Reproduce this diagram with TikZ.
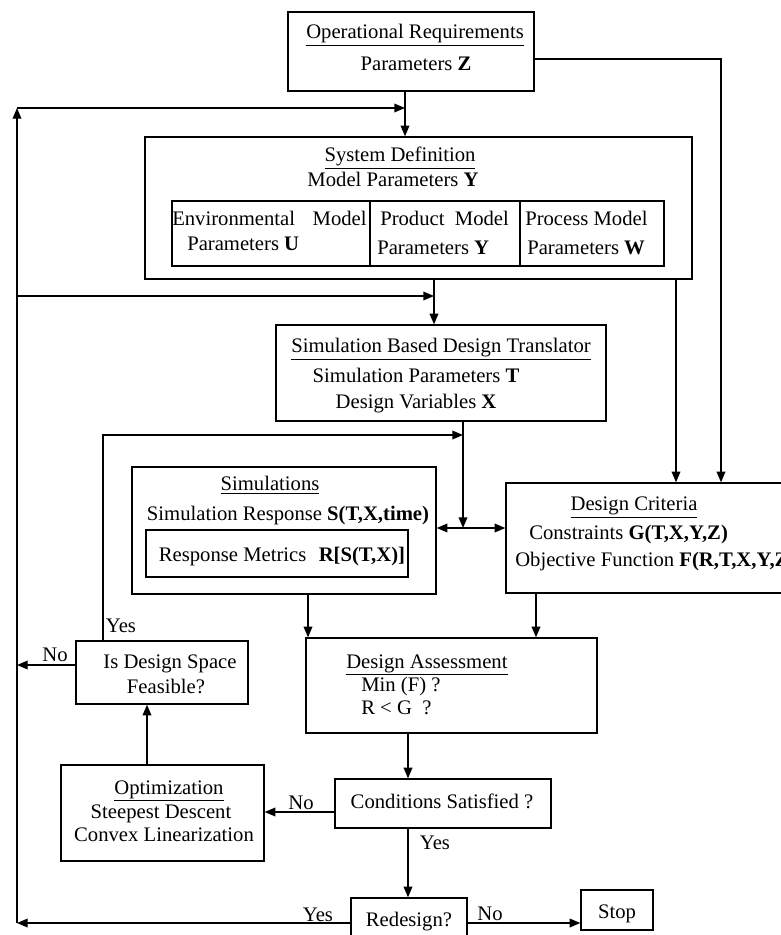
\documentclass[tikz,border=0pt]{standalone}
\usepackage{fontspec}
\setmainfont{Liberation Serif}
\usetikzlibrary{arrows.meta,fit}
\newcommand{\fsz}{\fontsize{15.5}{18}\selectfont}
\begin{document}
\begin{tikzpicture}[x=0.75pt,y=-0.75pt,
 box/.style={draw,line width=1pt,inner sep=0pt},
 txt/.style={inner sep=0pt,font=\fsz,anchor=mid,yshift=-2.2pt},
 ltxt/.style={txt,anchor=mid west},
 ln/.style={line width=1pt},
 arr/.style={ln,-{Triangle[length=8pt,width=6.5pt]}},
]
\useasboundingbox (0,0) rectangle (781,935);

% Operational requirements
\node[box,fit={(288,12)(534,91)}] (or) {};
\node[txt] (ort) at (415,33) {\underline{Operational Requirements}};
\node[txt] (orp) at (416,65) {Parameters \textbf{Z}};

% System definition
\node[box,fit={(145,137)(692,279)}] (sd) {};
\node[txt] (sdt) at (400,156) {\underline{System Definition}};
\node[txt] (sdp) at (393,181) {Model Parameters \textbf{Y}};
\node[box,fit={(172,201)(664,266)}] (tab) {};
\draw[ln] (370,0 |- tab.north) -- (370,0 |- tab.south);
\draw[ln] (520,0 |- tab.north) -- (520,0 |- tab.south);
\node[ltxt] (e1) at (172,220) {Environmental\hspace{0.85em}Model};
\node[ltxt] (e2) at (187,245) {Parameters \textbf{U}};
\node[ltxt] (p1) at (380,220) {Product\hspace{0.5em}Model};
\node[ltxt] (p2) at (377,249) {Parameters \textbf{Y}};
\node[ltxt] (q1) at (525,220) {Process Model};
\node[ltxt] (q2) at (527,249) {Parameters \textbf{W}};

% Simulation based design translator
\node[box,fit={(276,325)(606,421)}] (sb) {};
\node[txt] (sbt) at (441,347) {\underline{Simulation Based Design Translator}};
\node[txt] (sbp) at (416,377) {Simulation Parameters \textbf{T}};
\node[txt] (sbx) at (416,403) {Design Variables \textbf{X}};

% Simulations
\node[box,fit={(132,467)(436,594)}] (sim) {};
\node[txt] (simt) at (270,485) {\underline{Simulations}};
\node[txt] (simr) at (288,514) {Simulation Response \textbf{S(T,X,time)}};
\node[box,fit={(146,530)(408,577)}] (rm) {};
\node[txt] (rmt) at (282,555) {Response Metrics\hspace{0.6em}\textbf{R[S(T,X)]}};

% Design criteria
\node[box,fit={(506,483)(800,593)}] (dc) {};
\node[txt] (dct) at (634,505) {\underline{Design Criteria}};
\node[ltxt] (dcg) at (529,533) {Constraints \textbf{G(T,X,Y,Z)}};
\node[ltxt] (dcf) at (515,560) {Objective Function \textbf{F(R,T,X,Y,Z)}};

% Design assessment
\node[box,fit={(306,638)(597,733)}] (da) {};
\node[ltxt] (dat) at (346,662) {\underline{Design Assessment}};
\node[ltxt] (dam) at (361,685) {Min (F) ?};
\node[ltxt] (dar) at (361,708) {R < G\enspace?};

% Is design space feasible
\node[box,fit={(76,641)(248,704)}] (ids) {};
\node[txt] (ids1) at (170,662) {Is Design Space};
\node[txt] (ids2) at (166,687) {Feasible?};

% Optimization
\node[box,fit={(61,765)(264,861)}] (opt) {};
\node[txt] (o1) at (169,788) {\underline{Optimization}};
\node[txt] (o2) at (161,812) {Steepest Descent};
\node[txt] (o3) at (164,835) {Convex Linearization};

% Conditions satisfied
\node[box,fit={(335,779)(551,828)}] (cs) {};
\node[txt] (cst) at (442,802) {Conditions Satisfied ?};

% Redesign and stop
\node[box,fit={(351,898)(467,950)}] (rd) {};
\node[txt] (rdt) at (409,920) {Redesign?};
\node[box,fit={(581,890)(653,930)}] (st) {};
\node[txt] (stt) at (617,912) {Stop};

% Labels
\node[txt] (ly1) at (121,626) {Yes};
\node[txt] (ln1) at (55,655) {No};
\node[txt] (ln2) at (301,803) {No};
\node[txt] (ly2) at (435,843) {Yes};
\node[txt] (ly3) at (318,915) {Yes};
\node[txt] (ln3) at (490,914) {No};

% Junction coordinates
\coordinate (lt) at (17,108);
\coordinate (lb) at (17,923);
\coordinate (j1) at (405,108);
\coordinate (j2) at (434,296);
\coordinate (j3) at (463,528);
\coordinate (j4) at (463,435);
\coordinate (rc) at (721,59);

% Connectors
\draw[arr] (405,0 |- or.south) -- (405,0 |- sd.north);
\draw[arr] (lb) -- (lt);
\draw[arr] (lt) -- (j1);
\draw[arr] (or.east |- rc) -- (rc) -- (rc |- dc.north);
\draw[arr] (434,0 |- sd.south) -- (434,0 |- sb.north);
\draw[arr] (lt |- j2) -- (j2);
\draw[arr] (676,0 |- sd.south) -- (676,0 |- dc.north);
\draw[arr] (j3 |- sb.south) -- (j3);
\draw[arr] (j3) -- (sim.east |- j3);
\draw[arr] (j3) -- (dc.west |- j3);
\draw[arr] (103,0 |- ids.north) -- (103,0 |- j4) -- (j4);
\draw[arr] (ids.west |- 0,665) -- (lt |- 0,665);
\draw[arr] (147,0 |- opt.north) -- (147,0 |- ids.south);
\draw[arr] (308,0 |- sim.south) -- (308,0 |- da.north);
\draw[arr] (536,0 |- dc.south) -- (536,0 |- da.north);
\draw[arr] (408,0 |- da.south) -- (408,0 |- cs.north);
\draw[arr] (cs.west |- 0,812) -- (opt.east |- 0,812);
\draw[arr] (408,0 |- cs.south) -- (408,0 |- rd.north);
\draw[arr] (rd.west |- lb) -- (lb);
\draw[arr] (rd.east |- 0,923) -- (st.west |- 0,923);
\end{tikzpicture}
\end{document}
